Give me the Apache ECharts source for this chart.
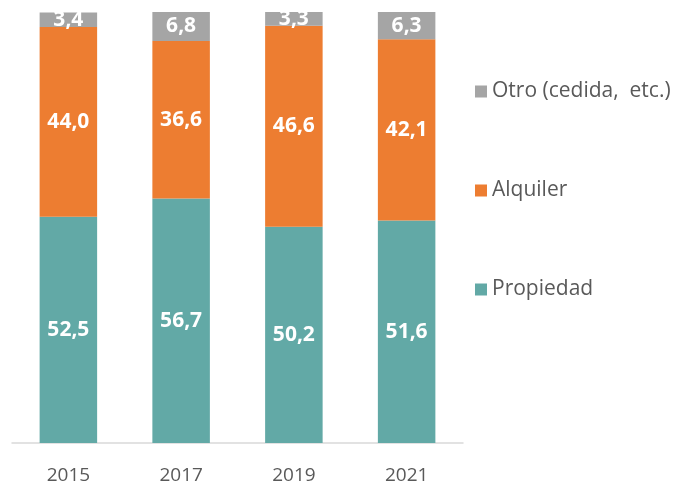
<!DOCTYPE html>
<html>
<head>
<meta charset="utf-8">
<script src="https://cdn.jsdelivr.net/npm/echarts@6/dist/echarts.min.js"></script>
<style>
  html, body { margin: 0; padding: 0; background: #fff; }
  #chart { width: 674px; height: 486px; }
</style>
</head>
<body>
<div id="chart"></div>
<script>
// datos
var years = ['2015', '2017', '2019', '2021'];
var propiedad = [52.5, 56.7, 50.2, 51.6];
var alquiler = [44.0, 36.6, 46.6, 42.1];
var otro = [3.4, 6.8, 3.3, 6.3];

var fontFam = '"Open Sans", "Liberation Sans", sans-serif';

function barLabel() {
    return {
        show: true,
        position: 'inside',
        color: '#fff',
        fontWeight: 'bold',
        fontSize: 21,
        fontFamily: fontFam,
        formatter: function (p) { return p.value.toFixed(1).replace('.', ','); }
    };
}

var myChart = echarts.init(document.getElementById('chart'));

var option = {
    animation: false,
    textStyle: { fontFamily: fontFam },
    grid: { left: 12, right: 211, top: 12, bottom: 43 },
    legend: {
        orient: 'vertical',
        left: 475,
        top: 81,
        padding: 0,
        itemWidth: 12,
        itemHeight: 12,
        itemGap: 78,
        icon: 'rect',
        textStyle: { color: '#595959', fontSize: 21, fontFamily: fontFam },
        data: ['Otro (cedida,  etc.)', 'Alquiler', 'Propiedad']
    },
    xAxis: {
        type: 'category',
        data: years,
        axisLine: { lineStyle: { color: '#d9d9d9', width: 1.5 } },
        axisTick: { show: false },
        axisLabel: { color: '#595959', fontSize: 19, margin: 23, fontFamily: fontFam }
    },
    yAxis: {
        type: 'value',
        min: 0,
        max: 100,
        show: false
    },
    series: [
        {
            name: 'Propiedad', type: 'bar', stack: 'total', barWidth: '51%',
            data: propiedad, itemStyle: { color: '#62A9A6' }, label: barLabel()
        },
        {
            name: 'Alquiler', type: 'bar', stack: 'total',
            data: alquiler, itemStyle: { color: '#ED7D31' }, label: barLabel()
        },
        {
            name: 'Otro (cedida,  etc.)', type: 'bar', stack: 'total',
            data: otro, itemStyle: { color: '#A5A5A5' }, label: barLabel()
        }
    ]
};

option && myChart.setOption(option);

window.addEventListener('resize', function () {
    myChart.resize();
});
</script>
</body>
</html>
